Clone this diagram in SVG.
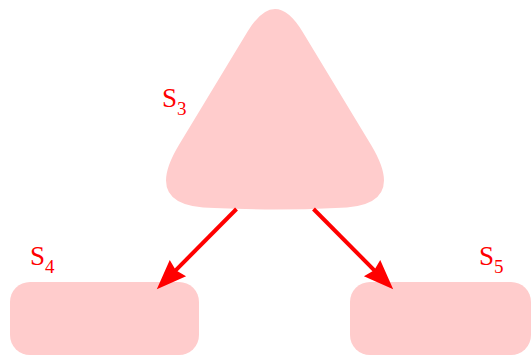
<svg xmlns="http://www.w3.org/2000/svg" width="531" height="356" viewBox="0 0 531 356">
  <style>
    .shape { fill: #ffcccc; stroke: none; }
    .conn { stroke: #ff0000; stroke-width: 4; fill: none; }
    .lbl { font-family: "Liberation Serif", "DejaVu Serif", serif; font-size: 27px; fill: #ff0000; }
    .sub { font-size: 19px; }
  </style>
  <defs>
    <marker id="arrow" markerUnits="userSpaceOnUse" viewBox="-6 -12 32 24" markerWidth="32" markerHeight="24" refX="0" refY="0" orient="auto">
      <path d="M 25 0 L -5 -11.5 L -2 0 L -5 11.5 Z" fill="#ff0000"/>
    </marker>
  </defs>
  <rect width="531" height="356" fill="#ffffff"/>
  <g id="S3">
    <path class="shape" d="M 247.3 32 Q 275 -14 302.7 32 L 371.1 145 Q 409 208 335.5 208 Q 275 211 214.5 208 Q 141 208 178.9 145 Z"/>
    <text class="lbl" x="162" y="107">S<tspan class="sub" y="114.5">3</tspan></text>
  </g>
  <g id="S4">
    <rect class="shape" x="10" y="282" width="189" height="73" rx="20" ry="20"/>
    <text class="lbl" x="30" y="265">S<tspan class="sub" y="272.5">4</tspan></text>
  </g>
  <g id="S5">
    <rect class="shape" x="350" y="282" width="181" height="73" rx="20" ry="20"/>
    <text class="lbl" x="479" y="265">S<tspan class="sub" y="273">5</tspan></text>
  </g>
  <g id="connectors">
    <line class="conn" x1="236.5" y1="209" x2="174.4" y2="271.6" marker-end="url(#arrow)"/>
    <line class="conn" x1="313.5" y1="209" x2="375.6" y2="271.6" marker-end="url(#arrow)"/>
  </g>
</svg>
